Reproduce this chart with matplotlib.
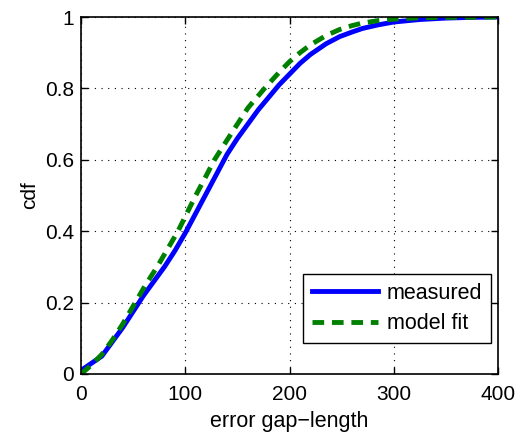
import numpy as np
import matplotlib
matplotlib.use("Agg")
import matplotlib.pyplot as plt

plt.rcParams["font.family"] = ["Liberation Sans", "DejaVu Sans"]

# measured cdf
meas_x = [0, 5, 10, 20, 30, 40, 50, 60, 70, 80, 90, 100, 110, 120, 130, 140, 150,
          160, 170, 180, 190, 200, 210, 220, 235, 248, 260, 270, 285, 300, 325,
          350, 375, 400]
meas_y = [0.01, 0.02, 0.03, 0.05, 0.09, 0.13, 0.175, 0.22, 0.26, 0.30, 0.345, 0.395,
          0.45, 0.505, 0.56, 0.615, 0.66, 0.70, 0.74, 0.775, 0.81, 0.84, 0.87,
          0.895, 0.925, 0.945, 0.958, 0.968, 0.978, 0.986, 0.993, 0.997, 0.999, 1.0]

# model fit cdf
fit_x = [0, 10, 20, 30, 40, 52, 62, 73, 83, 93, 110, 120, 128, 140, 150, 160, 176,
         190, 200, 210, 220, 235, 248, 260, 270, 285, 300, 325, 350, 400]
fit_y = [0.0, 0.025, 0.055, 0.095, 0.14, 0.20, 0.25, 0.30, 0.35, 0.40, 0.50, 0.555,
         0.60, 0.655, 0.70, 0.745, 0.80, 0.845, 0.875, 0.90, 0.922, 0.948, 0.965,
         0.976, 0.983, 0.99, 0.994, 0.998, 0.999, 1.0]

fig = plt.figure(figsize=(5.21, 4.33), dpi=100)
ax = fig.add_axes([0.1555, 0.1363, 0.8005, 0.8244])

ax.plot(meas_x, meas_y, color="#0000ff", linewidth=3.5, label="measured")
ax.plot(fit_x, fit_y, color="#008000", linewidth=3.5, linestyle=(0, (2.4, 1.6)),
        label="model fit")

ax.set_xlim(0, 400)
ax.set_ylim(0, 1)
ax.set_xticks([0, 100, 200, 300, 400])
ax.set_yticks([0, 0.2, 0.4, 0.6, 0.8, 1])
ax.set_yticklabels(["0", "0.2", "0.4", "0.6", "0.8", "1"])
ax.grid(True, color="black", linestyle=(0, (1, 5)), linewidth=0.8)
ax.tick_params(direction="in", top=True, right=True, labelsize=15, length=5,
               width=1.0, pad=5)
ax.tick_params(axis="x", pad=8)
for s in ax.spines.values():
    s.set_linewidth(1.2)

ax.set_xlabel("error gap\u2212length", fontsize=15.5, labelpad=5)
ax.set_ylabel("cdf", fontsize=15, labelpad=4)

leg = ax.legend(loc="lower right", bbox_to_anchor=(0.983, 0.087), borderaxespad=0,
                fontsize=15.5, fancybox=False, framealpha=1, edgecolor="black",
                handlelength=3.1, labelspacing=0.45, handletextpad=0.4)
leg.get_frame().set_linewidth(1.0)

fig.savefig("out.png", dpi=100, facecolor="white")
